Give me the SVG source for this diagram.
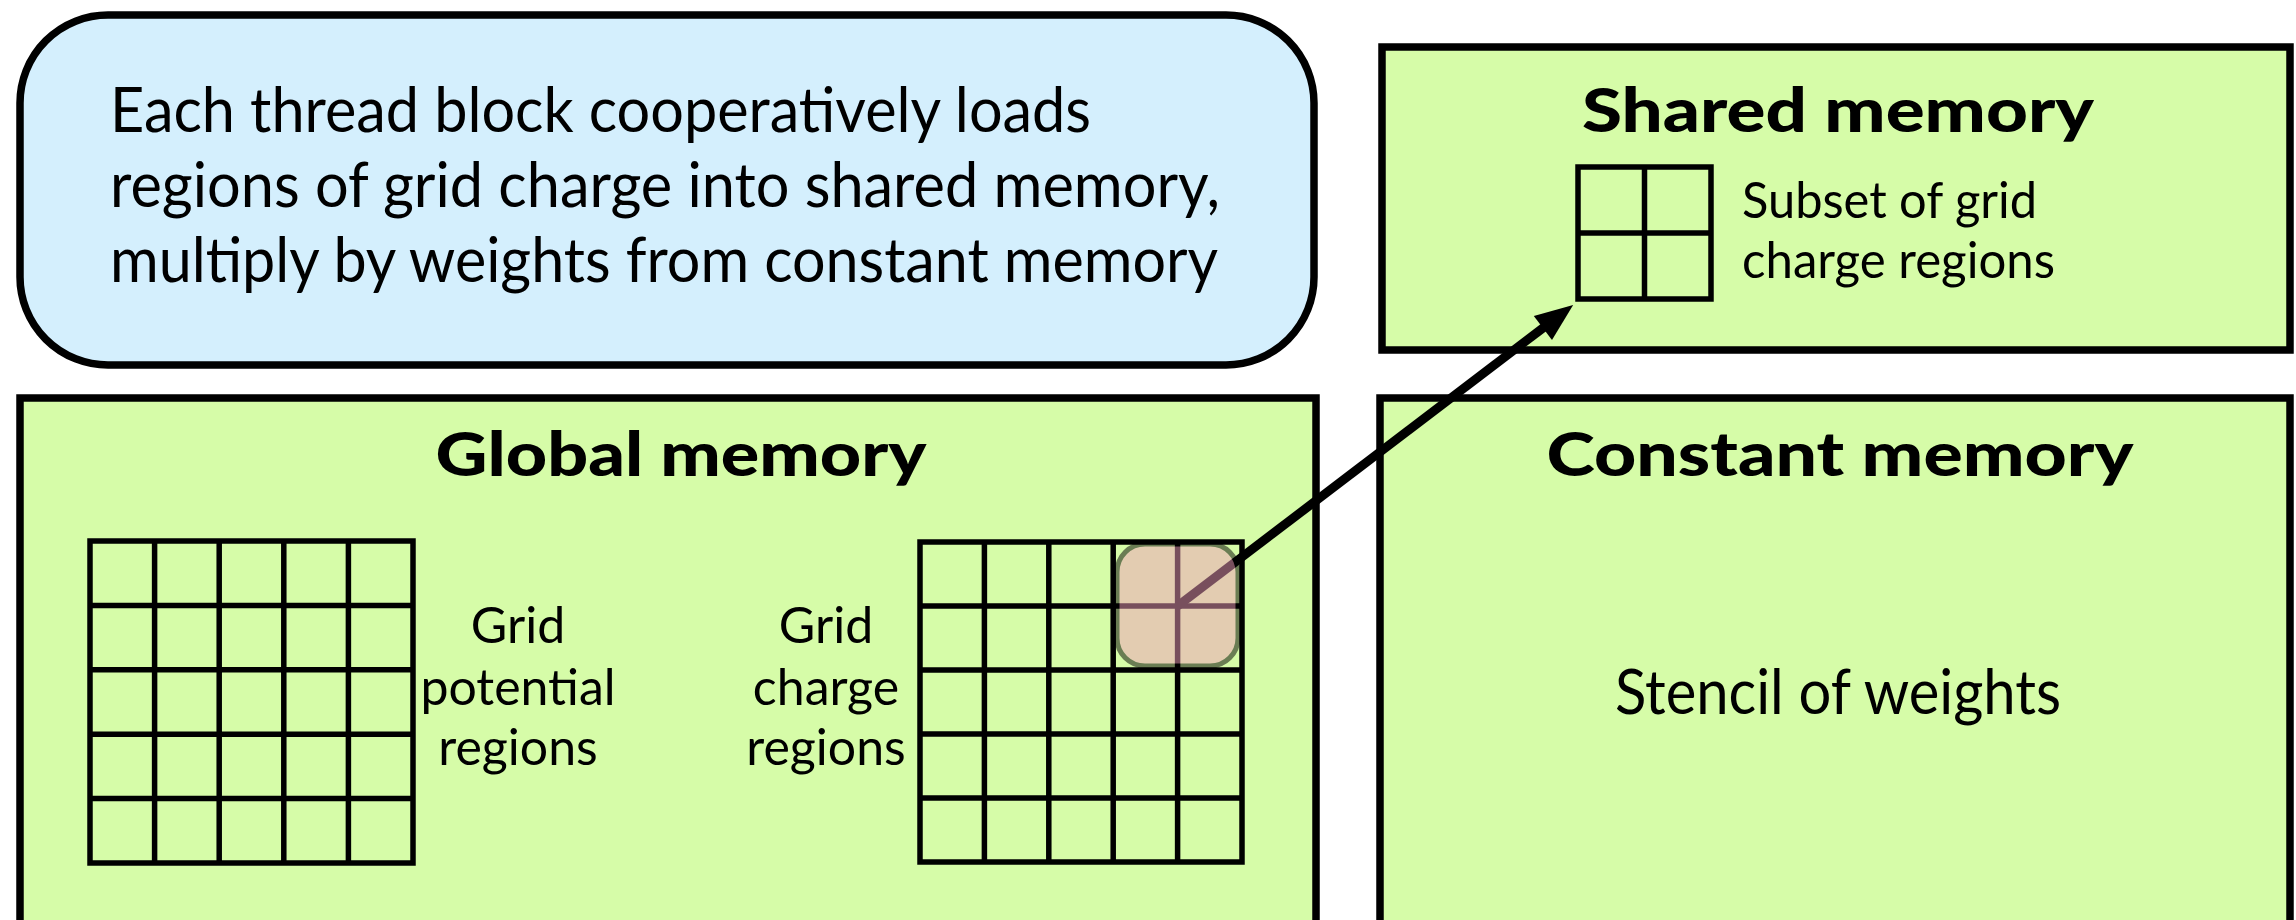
<svg xmlns="http://www.w3.org/2000/svg" width="2296" height="920" viewBox="0 0 2296 920">
  <defs>
    <style>
      .box { fill: #d6fca8; stroke: #000; stroke-width: 7.5; }
      .note { fill: #d4effd; stroke: #000; stroke-width: 7.5; }
      .grid { fill: none; stroke: #000; stroke-width: 5.5; stroke-linecap: square; }
      .t { font-family: Lato, "Noto Sans", "Liberation Sans", sans-serif; fill: #000; }
      .main { font-size: 61px; }
      .head { font-size: 61px; font-weight: 900; text-anchor: middle; }
      .lbl { font-size: 50px; }
      .mid { text-anchor: middle; }
      .arrow { stroke: #000; stroke-width: 9; fill: none; }
    </style>
    <marker id="ah" markerUnits="userSpaceOnUse" markerWidth="40" markerHeight="30" refX="2" refY="15" orient="auto" overflow="visible">
      <path d="M0,0 L38,15 L0,30 Z" fill="#000"/>
    </marker>
  </defs>
  <rect width="2296" height="920" fill="#fff"/>

  <g id="info-box">
    <rect class="note" x="20" y="15" width="1294" height="350" rx="88" ry="88"/>
    <text class="t main" x="110" y="132" textLength="981" lengthAdjust="spacingAndGlyphs">Each thread block cooperatively loads</text>
    <text class="t main" x="110" y="207" textLength="1110" lengthAdjust="spacingAndGlyphs">regions of grid charge into shared memory,</text>
    <text class="t main" x="110" y="282" textLength="1108" lengthAdjust="spacingAndGlyphs">multiply by weights from constant memory</text>
  </g>

  <g id="shared-memory">
    <rect class="box" x="1382" y="47" width="908" height="303"/>
    <text class="t head" x="1838" y="132" textLength="512" lengthAdjust="spacingAndGlyphs">Shared memory</text>
    <path class="grid" d="M1578,167 H1711 V299 H1578 Z M1644.5,167 V299 M1578,233 H1711"/>
    <text class="t lbl" x="1742" y="218" textLength="295" lengthAdjust="spacingAndGlyphs">Subset of grid</text>
    <text class="t lbl" x="1742" y="278" textLength="313" lengthAdjust="spacingAndGlyphs">charge regions</text>
  </g>

  <g id="global-memory">
    <rect class="box" x="20" y="398" width="1296" height="560"/>
    <text class="t head" x="681" y="476" textLength="491" lengthAdjust="spacingAndGlyphs">Global memory</text>
    <g id="grid-potential">
      <path class="grid" d="M90,541 V863 M154.6,541 V863 M219.2,541 V863 M283.8,541 V863 M348.4,541 V863 M413,541 V863 M90,541 H413 M90,605.4 H413 M90,669.8 H413 M90,734.2 H413 M90,798.6 H413 M90,863 H413"/>
      <text class="t lbl mid" x="518" y="643">Grid</text>
      <text class="t lbl mid" x="518" y="705">potential</text>
      <text class="t lbl mid" x="518" y="765">regions</text>
    </g>
    <g id="grid-charge">
      <path class="grid" d="M920,542 V862 M984.4,542 V862 M1048.8,542 V862 M1113.2,542 V862 M1177.6,542 V862 M1242,542 V862 M920,542 H1242 M920,606 H1242 M920,670 H1242 M920,734 H1242 M920,798 H1242 M920,862 H1242"/>
      <text class="t lbl mid" x="826" y="643">Grid</text>
      <text class="t lbl mid" x="826" y="705">charge</text>
      <text class="t lbl mid" x="826" y="765">regions</text>
    </g>
  </g>

  <g id="constant-memory">
    <rect class="box" x="1380" y="398" width="910" height="560"/>
    <text class="t head" x="1840" y="476" textLength="587" lengthAdjust="spacingAndGlyphs">Constant memory</text>
    <text class="t main mid" x="1838" y="714" textLength="446" lengthAdjust="spacingAndGlyphs">Stencil of weights</text>
  </g>

  <g id="connectors">
    <line class="arrow" x1="1177.6" y1="606" x2="1544.5" y2="326.8" marker-end="url(#ah)"/>
  </g>

  <g id="highlight" opacity="0.5">
    <rect x="1117" y="544" width="121" height="122" rx="28" ry="28" fill="#f09eba" stroke="#000" stroke-width="5"/>
  </g>
</svg>
